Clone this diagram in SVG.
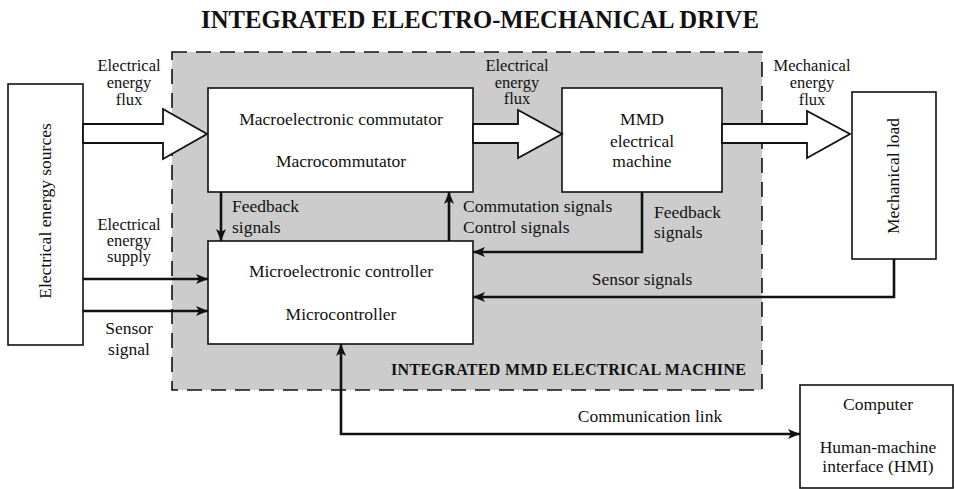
<svg xmlns="http://www.w3.org/2000/svg" width="955" height="489" viewBox="0 0 955 489">
<style>
text{font-family:"Liberation Serif","Times New Roman",serif;fill:#111;font-size:17.5px}
.b{font-weight:bold}
.t{font-size:24.7px}
.s{font-size:16px}
.k{font-size:16.5px}
.box{fill:#fff;stroke:#111;stroke-width:1.6}
.big{fill:#fff;stroke:#111;stroke-width:1.8;stroke-linejoin:miter}
.ln{fill:none;stroke:#111;stroke-width:2.6}
.m{text-anchor:middle}
</style>
<defs>
<marker id="ah" viewBox="0 0 12 10" refX="12" refY="5" markerWidth="12" markerHeight="10" markerUnits="userSpaceOnUse" orient="auto-start-reverse">
<path d="M0,0 L12,5 L0,10 L3,5 Z" fill="#111"/>
</marker>
</defs>
<rect width="955" height="489" fill="#fff"/>
<text class="b t m" x="480" y="28">INTEGRATED ELECTRO-MECHANICAL DRIVE</text>
<g id="integrated">
<rect x="172" y="52" width="590" height="338" fill="#cccccc" stroke="#111" stroke-width="1.6" stroke-dasharray="15,9"/>
<text class="b s" x="391" y="375" textLength="355">INTEGRATED MMD ELECTRICAL MACHINE</text>
</g>
<g id="sources">
<rect class="box" x="8" y="84" width="75" height="261"/>
<text class="m" transform="translate(51,211) rotate(-90)">Electrical energy sources</text>
</g>
<g id="macro">
<rect class="box" x="208" y="88" width="265" height="104"/>
<text class="m" x="341" y="125">Macroelectronic commutator</text>
<text class="m" x="341" y="167">Macrocommutator</text>
</g>
<g id="mmd">
<rect class="box" x="562" y="88" width="160" height="104"/>
<text class="m" x="642" y="125">MMD</text>
<text class="m" x="642" y="147">electrical</text>
<text class="m" x="642" y="167">machine</text>
</g>
<g id="load">
<rect class="box" x="852" y="92" width="84" height="167"/>
<text class="m" transform="translate(899,176) rotate(-90)">Mechanical load</text>
</g>
<g id="micro">
<rect class="box" x="208" y="241" width="265" height="103"/>
<text class="m" x="341" y="277">Microelectronic controller</text>
<text class="m" x="341" y="320">Microcontroller</text>
</g>
<g id="computer">
<rect class="box" x="800" y="385" width="153" height="103"/>
<text class="m" x="878" y="410">Computer</text>
<text class="m" x="878" y="453">Human-machine</text>
<text class="m" x="878" y="472">interface (HMI)</text>
</g>
<g id="connectors">
<polygon class="big" points="83,124 163,124 163,109 207,134 163,159 163,143 83,143"/>
<polygon class="big" points="473,124 518,124 518,110 562,134 518,158 518,143 473,143"/>
<polygon class="big" points="722,124 807,124 807,111 850,134 807,158 807,143 722,143"/>
<line class="ln" x1="83" y1="279" x2="208" y2="279" marker-end="url(#ah)"/>
<line class="ln" x1="83" y1="311" x2="208" y2="311" marker-end="url(#ah)"/>
<line class="ln" x1="221" y1="192" x2="221" y2="241" marker-end="url(#ah)"/>
<line class="ln" x1="449" y1="241" x2="449" y2="192" marker-end="url(#ah)"/>
<polyline class="ln" points="642,192 642,252 473,252" marker-end="url(#ah)"/>
<polyline class="ln" points="894,259 894,297 473,297" marker-end="url(#ah)"/>
<polyline class="ln" points="341,344 341,434 800,434" marker-start="url(#ah)" marker-end="url(#ah)"/>
</g>
<g id="labels">
<text class="m k" x="129" y="71">Electrical</text>
<text class="m k" x="129" y="88">energy</text>
<text class="m k" x="129" y="105">flux</text>
<text class="m k" x="517" y="71">Electrical</text>
<text class="m k" x="517" y="88">energy</text>
<text class="m k" x="517" y="104">flux</text>
<text class="m k" x="812" y="71">Mechanical</text>
<text class="m k" x="812" y="88">energy</text>
<text class="m k" x="812" y="105">flux</text>
<text class="m k" x="129" y="230">Electrical</text>
<text class="m k" x="129" y="246">energy</text>
<text class="m k" x="129" y="262">supply</text>
<text class="m" x="129" y="334">Sensor</text>
<text class="m" x="129" y="355">signal</text>
<text x="232" y="212">Feedback</text>
<text x="232" y="233">signals</text>
<text x="463" y="212">Commutation signals</text>
<text x="463" y="233">Control signals</text>
<text x="654" y="218">Feedback</text>
<text x="654" y="238">signals</text>
<text class="m" x="642" y="285">Sensor signals</text>
<text class="m" x="650" y="422">Communication link</text>
</g>
</svg>
